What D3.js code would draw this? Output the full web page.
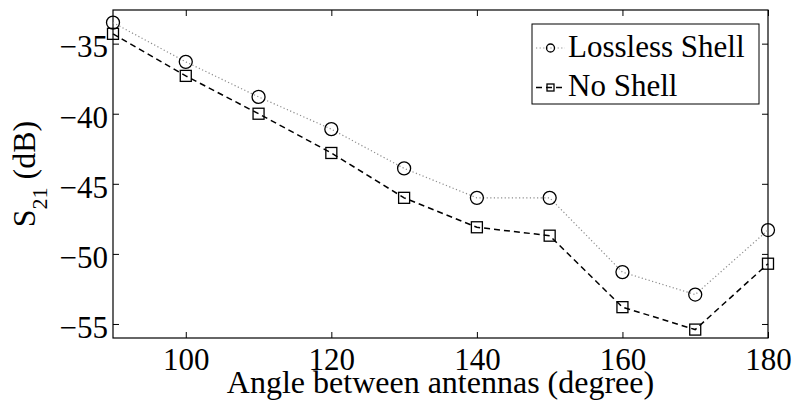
<!DOCTYPE html>
<html lang="en">
<head>
  <meta charset="UTF-8">
  <title>S21 vs angle</title>
  <style>
    body { margin: 0; background: #fff; }
    text { font-family: 'Liberation Serif', 'Times New Roman', serif; fill: #000; }
  </style>
</head>
<body>
  <svg id="svg" width="793" height="407"></svg>

  <script src="https://d3js.org/d3.v7.min.js"></script>
  <script>
    // values
    const angles = [90, 100, 110, 120, 130, 140, 150, 160, 170, 180]
    const losslessShell = [-33.5, -36.3, -38.8, -41.1, -43.9, -46.0, -46.0, -51.3, -52.9, -48.3]
    const noShell = [-34.3, -37.3, -40.0, -42.8, -46.0, -48.1, -48.7, -53.8, -55.4, -50.7]
    const xTicks = [100, 120, 140, 160, 180]
    const yTicks = [-55, -50, -45, -40, -35]

    const series = [
      { name: 'Lossless Shell', values: losslessShell, marker: 'circle', stroke: '#8c8c8c', width: 1.2, dash: '1.2,2.4' },
      { name: 'No Shell', values: noShell, marker: 'square', stroke: '#000', width: 1.5, dash: '6,4' }
    ]

    const plotL = 113, plotR = 768, plotT = 10, plotB = 338

    const xScale = d3.scaleLinear().domain([90, 180]).range([plotL, plotR])
    const yScale = d3.scaleLinear().domain([-56, -32.6]).range([plotB, plotT])

    const svg = d3.select('#svg')

    // axes, ticks pointing inward like matlab
    svg.append('g')
      .attr('transform', `translate(0,${plotB})`)
      .call(d3.axisBottom(xScale).tickValues(xTicks).tickSizeInner(-6).tickSizeOuter(0))
      .call(g => g.select('.domain').remove())
      .call(g => g.selectAll('text').attr('y', 32).attr('dy', null).style('font-size', '31px'))

    svg.append('g')
      .attr('transform', `translate(0,${plotT})`)
      .call(d3.axisTop(xScale).tickValues(xTicks).tickSizeInner(-6).tickSizeOuter(0).tickFormat(''))
      .call(g => g.select('.domain').remove())

    svg.append('g')
      .attr('transform', `translate(${plotL},0)`)
      .call(d3.axisLeft(yScale).tickValues(yTicks).tickSizeInner(-6).tickSizeOuter(0).tickPadding(5))
      .call(g => g.select('.domain').remove())
      .call(g => g.selectAll('text').attr('dy', '0.43em').style('font-size', '31px'))

    svg.append('g')
      .attr('transform', `translate(${plotR},0)`)
      .call(d3.axisRight(yScale).tickValues(yTicks).tickSizeInner(-6).tickSizeOuter(0).tickFormat(''))
      .call(g => g.select('.domain').remove())

    svg.selectAll('.tick line').attr('stroke', '#000').attr('stroke-width', 1)
    svg.selectAll('.tick text').style('font-family', "'Liberation Serif', serif")

    svg.append('rect')
      .attr('x', plotL).attr('y', plotT)
      .attr('width', plotR - plotL).attr('height', plotB - plotT)
      .attr('fill', 'none').attr('stroke', '#000').attr('stroke-width', 1.2)

    // series
    const line = d3.line()
      .x((d, i) => xScale(angles[i]))
      .y(d => yScale(d))

    function drawMarker(g, type, cx, cy, size) {
      if (type === 'circle') {
        g.append('circle')
          .attr('cx', cx).attr('cy', cy).attr('r', size / 2)
          .attr('fill', 'none').attr('stroke', '#000').attr('stroke-width', 1.3)
      } else {
        g.append('rect')
          .attr('x', cx - size / 2).attr('y', cy - size / 2)
          .attr('width', size).attr('height', size)
          .attr('fill', 'none').attr('stroke', '#000').attr('stroke-width', 1.3)
      }
    }

    series.forEach(s => {
      const g = svg.append('g')
      g.append('path')
        .attr('d', line(s.values))
        .attr('fill', 'none')
        .attr('stroke', s.stroke)
        .attr('stroke-width', s.width)
        .attr('stroke-dasharray', s.dash)
      s.values.forEach((v, i) => {
        drawMarker(g, s.marker, xScale(angles[i]), yScale(v), s.marker === 'circle' ? 13 : 11)
      })
    })

    // labels
    svg.append('text')
      .attr('x', (plotL + plotR) / 2)
      .attr('y', 393)
      .attr('text-anchor', 'middle')
      .style('font-size', '32px')
      .text('Angle between antennas (degree)')

    const ylab = svg.append('text')
      .attr('transform', `translate(35,${(plotT + plotB) / 2}) rotate(-90)`)
      .attr('text-anchor', 'middle')
      .style('font-size', '32px')
    ylab.append('tspan').text('S')
    ylab.append('tspan').attr('dy', 12).style('font-size', '22px').text('21')
    ylab.append('tspan').attr('dy', -12).text(' (dB)')

    // legend
    const legend = svg.append('g')
    legend.append('rect')
      .attr('x', 532).attr('y', 24)
      .attr('width', 227).attr('height', 80)
      .attr('fill', '#fff').attr('stroke', '#000').attr('stroke-width', 1)

    series.forEach((s, i) => {
      const cy = 48 + i * 39.5
      legend.append('line')
        .attr('x1', 536).attr('x2', 565)
        .attr('y1', cy).attr('y2', cy)
        .attr('stroke', s.stroke)
        .attr('stroke-width', s.width)
        .attr('stroke-dasharray', s.dash)
      drawMarker(legend, s.marker, 550.5, cy, s.marker === 'circle' ? 8 : 7)
      legend.append('text')
        .attr('x', 568)
        .attr('y', cy + 8.5)
        .style('font-size', '31px')
        .text(s.name)
    })
  </script>
</body>
</html>
